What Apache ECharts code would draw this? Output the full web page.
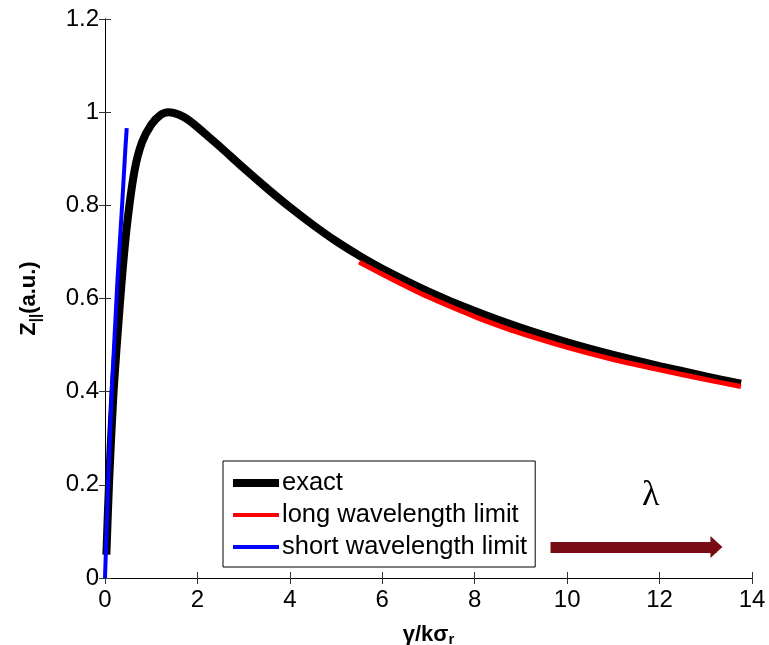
<!DOCTYPE html>
<html>
<head>
<meta charset="utf-8">
<script src="https://cdn.jsdelivr.net/npm/echarts@6/dist/echarts.min.js"></script>
<style>html,body{margin:0;padding:0;background:#fff}#c{width:769px;height:645px}</style>
</head>
<body>
<div id="c"></div>
<script>
// ---- data ----
const exactX = [0.03,0.09,0.18,0.27,0.38,0.49,0.64,0.8,1.0,1.2,1.37,1.5,1.7,1.85,2.0,2.28,2.5,3.0,3.5,4.0,4.5,5.0,5.5,6.0,7.0,8.0,9.0,10.0,11.0,12.0,13.0,13.76];
const exactY = [0.05,0.21,0.39,0.52,0.66,0.77,0.875,0.935,0.973,0.994,1.0,0.998,0.99,0.98,0.968,0.944,0.925,0.88,0.837,0.796,0.758,0.723,0.692,0.664,0.615,0.573,0.537,0.506,0.479,0.455,0.433,0.417];
const longX = [5.5,6,7,8,8.56,9,10,11,12,13,13.76];
const longY = [0.678,0.652,0.603,0.561,0.540,0.525,0.495,0.469,0.447,0.426,0.411];
const shortX = [0,0.07,0.15,0.27,0.37,0.44,0.47];
const shortY = [0,0.21,0.41,0.64,0.80,0.92,0.966];
const seriesNames = ['exact','long wavelength limit','short wavelength limit'];
const arrowX = [9.64, 13.23];
const arrowY = [0.0665, 0.0665];
const lambdaPos = [11.81, 0.178];
const xMin = 0, xMax = 14, xStep = 2;
const yMin = 0, yMax = 1.2, yStep = 0.2;

const zip = (xs, ys) => xs.map((x, i) => [x, ys[i]]);
const font = 'Liberation Sans, Arial, sans-serif';

const chart = echarts.init(document.getElementById('c'), null, {renderer: 'canvas'});
const axisCommon = {
  axisLine: {show: true, lineStyle: {color: '#000', width: 1}},
  axisTick: {show: true, inside: true, length: 6, lineStyle: {color: '#333', width: 1}},
  splitLine: {show: false}
};
chart.setOption({
  animation: false,
  backgroundColor: '#fff',
  grid: {left: 105, right: 17, top: 19, bottom: 67, containLabel: false, outerBoundsMode: 'none'},
  legend: {
    data: [
      {name: seriesNames[0], icon: 'path://M0,0H46V8H0Z', itemStyle: {color: '#000'}},
      {name: seriesNames[1], icon: 'path://M0,0H46V4H0Z', itemStyle: {color: '#ff0000'}},
      {name: seriesNames[2], icon: 'path://M0,0H46V4H0Z', itemStyle: {color: '#0000ff'}}
    ],
    symbolKeepAspect: true,
    orient: 'vertical',
    left: 223, top: 461,
    backgroundColor: '#fff',
    borderColor: '#000', borderWidth: 1, borderRadius: 0,
    padding: [9, 8, 7, 10],
    itemWidth: 46, itemHeight: 10, itemGap: 6,
    textStyle: {fontFamily: font, fontSize: 25.5, color: '#000', padding: [0, 0, 0, -2]},
    selectedMode: false
  },
  xAxis: [
    Object.assign({
      type: 'value', min: xMin, max: xMax, interval: xStep, position: 'bottom',
      axisLabel: {fontFamily: font, fontSize: 24, color: '#000', margin: 10},
      name: '{a|γ/kσ}{b|r}',
      nameLocation: 'middle', nameGap: 44,
      nameTextStyle: {
        rich: {
          a: {fontFamily: font, fontSize: 22, fontWeight: 'bold', color: '#000'},
          b: {fontFamily: font, fontSize: 15, fontWeight: 'bold', color: '#000', padding: [10, 0, 0, 0]}
        }
      }
    }, axisCommon),
    Object.assign({
      type: 'value', min: xMin, max: xMax, interval: xStep, position: 'top',
      axisLabel: {show: false}
    }, axisCommon)
  ],
  yAxis: [
    Object.assign({
      type: 'value', min: yMin, max: yMax, interval: yStep, position: 'left',
      axisLabel: {fontFamily: font, fontSize: 24, color: '#000', margin: 6,
        formatter: v => (Math.round(v * 10) / 10).toString()},
      name: '{a|Z}{b|||}{a|(a.u.)}',
      nameLocation: 'middle', nameGap: 62,
      nameTextStyle: {
        rich: {
          a: {fontFamily: font, fontSize: 22, fontWeight: 'bold', color: '#000'},
          b: {fontFamily: font, fontSize: 15, fontWeight: 'bold', color: '#000', padding: [14, 0, 0, 0]}
        }
      }
    }, axisCommon),
    Object.assign({
      type: 'value', min: yMin, max: yMax, interval: yStep, position: 'right',
      axisLabel: {show: false}
    }, axisCommon)
  ],
  series: [
    {
      name: seriesNames[0], type: 'line', data: zip(exactX, exactY),
      showSymbol: false, symbol: 'none', smooth: 0.3,
      lineStyle: {color: '#000', width: 8}, itemStyle: {color: '#000'}
    },
    {
      name: seriesNames[1], type: 'line', data: zip(longX, longY),
      showSymbol: false, symbol: 'none', smooth: 0.3,
      lineStyle: {color: '#ff0000', width: 5}, itemStyle: {color: '#ff0000'}
    },
    {
      name: seriesNames[2], type: 'line', data: zip(shortX, shortY),
      showSymbol: false, symbol: 'none',
      lineStyle: {color: '#0000ff', width: 4}, itemStyle: {color: '#0000ff'}
    },
    {
      name: 'arrow', type: 'line', data: [], silent: true,
      markLine: {
        silent: true, animation: false,
        symbol: ['none', 'triangle'], symbolSize: [22, 12],
        label: {show: false},
        lineStyle: {color: '#780b14', width: 11, type: 'solid'},
        itemStyle: {color: '#780b14'},
        data: [[{coord: [arrowX[0], arrowY[0]]}, {coord: [arrowX[1], arrowY[1]]}]]
      },
      markPoint: {
        silent: true, animation: false,
        symbol: 'circle', symbolSize: 1,
        itemStyle: {color: 'rgba(0,0,0,0)'},
        label: {show: true, position: 'inside', formatter: 'λ',
          fontFamily: 'Liberation Serif, Times New Roman, serif', fontSize: 36, color: '#000'},
        data: [{coord: lambdaPos}]
      }
    }
  ]
});
</script>
</body>
</html>
